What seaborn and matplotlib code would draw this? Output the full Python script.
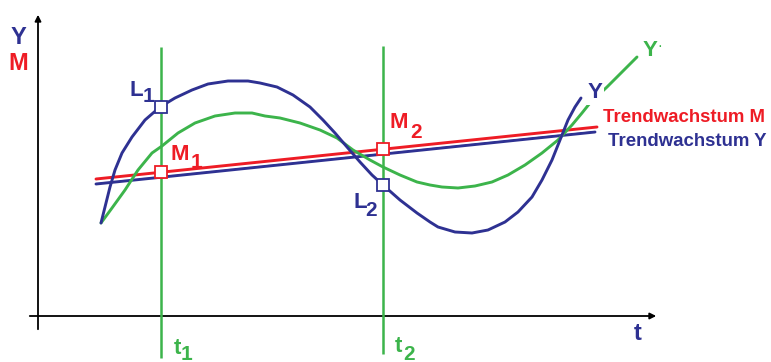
import matplotlib
matplotlib.use("Agg")
import matplotlib.pyplot as plt
import matplotlib.patheffects as pe
import seaborn as sns

# values, origin = where the axes cross
# actual output Y (blue curve)
y_t = [63, 67, 72, 77, 84, 94, 107, 122, 137, 154, 170, 190, 210, 222, 239, 255, 272,
       285, 297, 309, 322, 334, 345, 362, 379, 392, 400, 417, 434, 450, 467, 480, 494,
       504, 514, 522, 530, 537, 543]
y_val = [93, 109, 129, 146, 163, 179, 196, 209, 218, 226, 232, 235, 235, 233, 229, 221, 209,
         196, 183, 169, 154, 141, 131, 116, 103, 94, 89, 84, 83, 86, 94, 104, 119,
         136, 156, 176, 196, 209, 218]

# green curve Y'
g_t = [63, 74, 87, 100, 114, 124, 140, 157, 177, 197, 214, 227, 242, 262, 282, 299, 315,
       332, 345, 362, 379, 392, 404, 420, 437, 454, 470, 487, 504, 520, 534, 544, 552,
       569, 599]
g_val = [93, 108, 126, 146, 163, 170, 183, 193, 200, 203, 203, 200, 198, 193, 186, 178, 166,
         156, 149, 141, 134, 131, 129, 128, 130, 134, 141, 151, 163, 176, 191, 203, 213,
         229, 259]

# trend lines
trend_m_t = [58, 559]
trend_m = [137, 189]
trend_y_t = [58, 557]
trend_y = [132, 184]

# the two points in time and the marked values there
t_marks = [123, 345]
t_names = ["1", "2"]
l_vals = [209, 131]
m_vals = [144, 167]

BLUE = "#2e3192"
RED = "#ee1c25"
GREEN = "#3cb44b"

sns.set_style("white")
plt.rcParams["font.family"] = ["Liberation Sans", "DejaVu Sans"]
plt.rcParams["font.weight"] = "bold"

fig = plt.figure(figsize=(7.71, 3.62), dpi=100)
ax = fig.add_axes([0, 0, 1, 1])
ax.set_xlim(-38, 733)
ax.set_ylim(-46, 316)
ax.axis("off")

# axes with arrows
ax.annotate("", xy=(0, 304), xytext=(0, -16),
            arrowprops=dict(arrowstyle="-|>", color="black", lw=1.3, mutation_scale=9))
ax.annotate("", xy=(621, 0), xytext=(-11, 0),
            arrowprops=dict(arrowstyle="-|>", color="black", lw=1.3, mutation_scale=9))

# trend lines with a white rim
rim = [pe.withStroke(linewidth=4.2, foreground="white")]
l1 = sns.lineplot(x=trend_y_t, y=trend_y, color=BLUE, lw=2.1, ax=ax, zorder=2)
l1.lines[-1].set_path_effects(rim)
l2 = sns.lineplot(x=trend_m_t, y=trend_m, color=RED, lw=2.1, ax=ax, zorder=2)
l2.lines[-1].set_path_effects(rim)

# curves
sns.lineplot(x=g_t, y=g_val, color=GREEN, lw=2.1, ax=ax, sort=False, estimator=None, zorder=2)
sns.lineplot(x=y_t, y=y_val, color=BLUE, lw=2.1, ax=ax, sort=False, estimator=None, zorder=2)

# vertical time lines
ax.vlines(t_marks, [-42, -38], [269, 270], color=GREEN, lw=1.8, zorder=3)

# markers
ax.plot(t_marks, l_vals, "s", ms=9, mfc="white", mec=BLUE, mew=1.3, zorder=4)
ax.plot(t_marks, m_vals, "s", ms=9, mfc="white", mec=RED, mew=1.3, zorder=4)

kw = dict(ha="center", va="center", fontweight="bold", zorder=5)

# axis labels
ax.text(-20, 279, "Y", color=BLUE, fontsize=17, **kw)
ax.text(-20, 253, "M", color=RED, fontsize=17, **kw)
ax.text(600, -18, "t", color=BLUE, fontsize=17, **kw)

# point labels with subscripts
ax.text(98, 225, "L", color=BLUE, fontsize=16, **kw)
ax.text(110, 219, t_names[0], color=BLUE, fontsize=15, **kw)
ax.text(142, 161, "M", color=RED, fontsize=16, **kw)
ax.text(159, 153, t_names[0], color=RED, fontsize=15, **kw)
ax.text(361, 194, "M", color=RED, fontsize=16, **kw)
ax.text(378, 184, t_names[1], color=RED, fontsize=15, **kw)
ax.text(322, 113, "L", color=BLUE, fontsize=16, **kw)
ax.text(333, 106, t_names[1], color=BLUE, fontsize=15, **kw)

# time labels
ax.text(139, -32, "t", color=GREEN, fontsize=16, **kw)
ax.text(149, -38, t_names[0], color=GREEN, fontsize=15, **kw)
ax.text(360, -30, "t", color=GREEN, fontsize=16, **kw)
ax.text(371, -38, t_names[1], color=GREEN, fontsize=15, **kw)

# curve labels
ax.text(557, 224, "Y", color=BLUE, fontsize=16,
        bbox=dict(facecolor="white", edgecolor="none", pad=1.5), **kw)
ax.text(612, 266, "Y", color=GREEN, fontsize=16, **kw)
ax.text(622, 269, "·", color=GREEN, fontsize=7, ha="center", va="center", zorder=5)

# trend labels
ax.text(565, 198, "Trendwachstum M", color=RED, fontsize=13.4,
        ha="left", va="center", fontweight="bold")
ax.text(570, 175, "Trendwachstum Y", color=BLUE, fontsize=13.4,
        ha="left", va="center", fontweight="bold")

fig.savefig("out.png", dpi=100)
